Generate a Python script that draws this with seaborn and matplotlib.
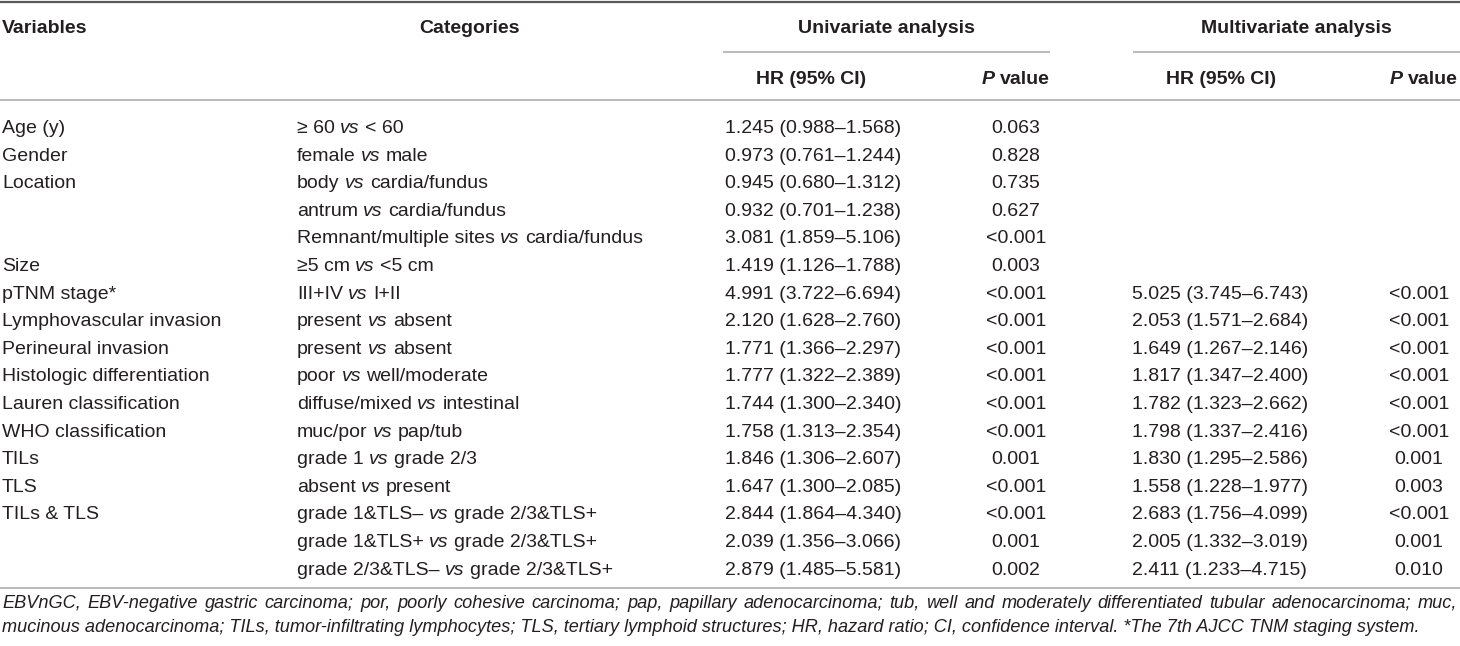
import matplotlib
matplotlib.use("Agg")
import matplotlib.pyplot as plt
import seaborn as sns
import pandas as pd

# Données du tableau (Cox, survie)
variables = ["Age (y)", "Gender", "Location", "", "", "Size", "pTNM stage*",
             "Lymphovascular invasion", "Perineural invasion",
             "Histologic differentiation", "Lauren classification",
             "WHO classification", "TILs", "TLS", "TILs & TLS", "", ""]
categories = ["≥ 60 vs < 60", "female vs male", "body vs cardia/fundus",
              "antrum vs cardia/fundus", "Remnant/multiple sites vs cardia/fundus",
              "≥5 cm vs <5 cm", "III+IV vs I+II", "present vs absent",
              "present vs absent", "poor vs well/moderate",
              "diffuse/mixed vs intestinal", "muc/por vs pap/tub",
              "grade 1 vs grade 2/3", "absent vs present",
              "grade 1&TLS– vs grade 2/3&TLS+", "grade 1&TLS+ vs grade 2/3&TLS+",
              "grade 2/3&TLS– vs grade 2/3&TLS+"]
uni_hr = ["1.245 (0.988–1.568)", "0.973 (0.761–1.244)", "0.945 (0.680–1.312)",
          "0.932 (0.701–1.238)", "3.081 (1.859–5.106)", "1.419 (1.126–1.788)",
          "4.991 (3.722–6.694)", "2.120 (1.628–2.760)", "1.771 (1.366–2.297)",
          "1.777 (1.322–2.389)", "1.744 (1.300–2.340)", "1.758 (1.313–2.354)",
          "1.846 (1.306–2.607)", "1.647 (1.300–2.085)", "2.844 (1.864–4.340)",
          "2.039 (1.356–3.066)", "2.879 (1.485–5.581)"]
uni_p = ["0.063", "0.828", "0.735", "0.627", "<0.001", "0.003", "<0.001",
         "<0.001", "<0.001", "<0.001", "<0.001", "<0.001", "0.001", "<0.001",
         "<0.001", "0.001", "0.002"]
multi_hr = ["", "", "", "", "", "", "5.025 (3.745–6.743)", "2.053 (1.571–2.684)",
            "1.649 (1.267–2.146)", "1.817 (1.347–2.400)", "1.782 (1.323–2.662)",
            "1.798 (1.337–2.416)", "1.830 (1.295–2.586)", "1.558 (1.228–1.977)",
            "2.683 (1.756–4.099)", "2.005 (1.332–3.019)", "2.411 (1.233–4.715)"]
multi_p = ["", "", "", "", "", "", "<0.001", "<0.001", "<0.001", "<0.001",
           "<0.001", "<0.001", "0.001", "0.003", "<0.001", "0.001", "0.010"]

footnote_1 = ("EBVnGC, EBV-negative gastric carcinoma; por, poorly cohesive carcinoma; "
              "pap, papillary adenocarcinoma; tub, well and moderately differentiated "
              "tubular adenocarcinoma; muc,")
footnote_2 = ("mucinous adenocarcinoma; TILs, tumor-infiltrating lymphocytes; TLS, "
              "tertiary lymphoid structures; HR, hazard ratio; CI, confidence interval. "
              "*The 7th AJCC TNM staging system.")

df = pd.DataFrame({"var": variables, "cat": categories, "uhr": uni_hr,
                   "up": uni_p, "mhr": multi_hr, "mp": multi_p})

sns.set_theme(style="white")
plt.rcParams["font.family"] = ["Liberation Sans", "DejaVu Sans"]

TXT = "#231f20"
SIZE = 14

fig = plt.figure(figsize=(14.6, 6.46), dpi=100)
ax = fig.add_axes([0, 0, 1, 1])
ax.set_xlim(0, 1460)
ax.set_ylim(646, 0)
ax.axis("off")
renderer = fig.canvas.get_renderer()


def width_of(t):
    return t.get_window_extent(renderer).width


def draw_parts(x, y, parts, ha="left", size=SIZE, weight="normal"):
    # parts : liste de (texte, italique), séparés par une espace
    arts = []
    for txt, it in parts:
        arts.append(ax.text(0, y, txt, fontsize=size, weight=weight, color=TXT,
                            style="italic" if it else "normal", va="baseline", ha="left"))
    probe = ax.text(0, y, "a a", fontsize=size, weight=weight)
    probe2 = ax.text(0, y, "aa", fontsize=size, weight=weight)
    space = width_of(probe) - width_of(probe2)
    probe.remove()
    probe2.remove()
    widths = [width_of(a) for a in arts]
    total = sum(widths) + space * (len(arts) - 1)
    if ha == "center":
        x = x - total / 2
    elif ha == "right":
        x = x - total
    for a, w in zip(arts, widths):
        a.set_x(x)
        x += w + space


def cat_parts(s):
    bits = s.split(" vs ")
    out = []
    for i, b in enumerate(bits):
        if i > 0:
            out.append(("vs", True))
        out.append((b, False))
    return out


# Traits horizontaux
ax.hlines(1.5, 0, 1460, color="#5a5a5a", lw=1.6)
ax.hlines(52, 723, 1050, color="#a8a8a8", lw=1.1)
ax.hlines(52, 1133, 1460, color="#a8a8a8", lw=1.1)
ax.hlines(100, 0, 1460, color="#a8a8a8", lw=1.1)
ax.hlines(588, 0, 1460, color="#a8a8a8", lw=1.1)

# En-têtes
hdr1, hdr2 = 33, 84
draw_parts(2, hdr1, [("Variables", False)], weight="bold")
draw_parts(470, hdr1, [("Categories", False)], ha="center", weight="bold")
draw_parts(886, hdr1, [("Univariate analysis", False)], ha="center", weight="bold")
draw_parts(1296, hdr1, [("Multivariate analysis", False)], ha="center", weight="bold")
draw_parts(811, hdr2, [("HR (95% CI)", False)], ha="center", weight="bold")
draw_parts(1050, hdr2, [("P", True), ("value", False)], ha="right", weight="bold")
draw_parts(1221, hdr2, [("HR (95% CI)", False)], ha="center", weight="bold")
draw_parts(1458, hdr2, [("P", True), ("value", False)], ha="right", weight="bold")

# Lignes du tableau
for i, row in df.iterrows():
    y = 133 + 27.6 * i
    if row["var"]:
        draw_parts(2, y, [(row["var"], False)])
    draw_parts(297, y, cat_parts(row["cat"]))
    draw_parts(725, y, [(row["uhr"], False)])
    draw_parts(1016, y, [(row["up"], False)], ha="center")
    if row["mhr"]:
        draw_parts(1132, y, [(row["mhr"], False)])
        draw_parts(1419, y, [(row["mp"], False)], ha="center")

# Note de bas de tableau (première ligne justifiée)
FS = 13.1
words = footnote_1.split(" ")
arts = [ax.text(0, 608, w, fontsize=FS, style="italic", color=TXT,
                va="baseline", ha="left") for w in words]
ws = [width_of(a) for a in arts]
gap = (1457 - 2 - sum(ws)) / (len(words) - 1)
x = 2
for a, w in zip(arts, ws):
    a.set_x(x)
    x += w + gap
ax.text(2, 632, footnote_2, fontsize=FS, style="italic", color=TXT,
        va="baseline", ha="left")

fig.savefig("out.png", dpi=100)
